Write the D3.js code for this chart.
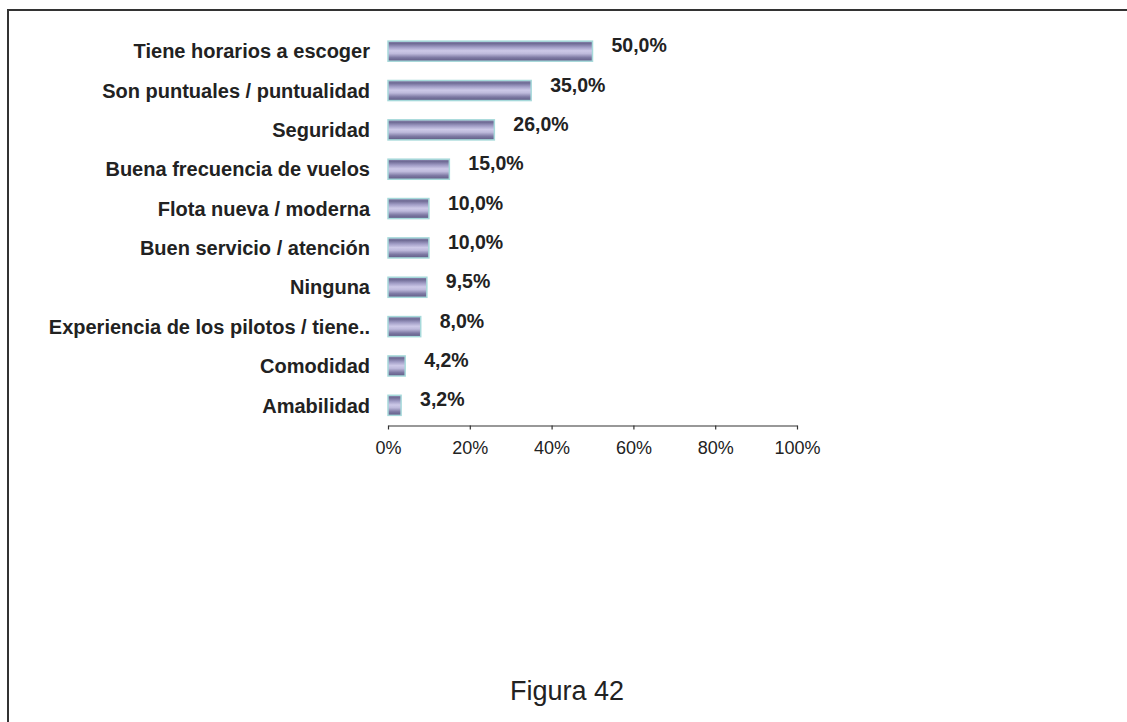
<!DOCTYPE html>
<html>
<head>
<meta charset="utf-8">
<script src="https://cdn.jsdelivr.net/npm/d3@7/dist/d3.min.js"></script>
<style>
  html, body { margin: 0; padding: 0; background: #fff; }
  svg { display: block; }
</style>
</head>
<body>
<svg id="chart" width="1127" height="722"></svg>
<script>
// Reasons given, in display order (top to bottom)
const categories = [
  "Tiene horarios a escoger",
  "Son puntuales / puntualidad",
  "Seguridad",
  "Buena frecuencia de vuelos",
  "Flota nueva / moderna",
  "Buen servicio / atención",
  "Ninguna",
  "Experiencia de los pilotos / tiene..",
  "Comodidad",
  "Amabilidad"
];
// Share of respondents, in percent
const values = [50.0, 35.0, 26.0, 15.0, 10.0, 10.0, 9.5, 8.0, 4.2, 3.2];
// Axis ticks
const tickValues = [0, 20, 40, 60, 80, 100];
const caption = "Figura 42";

const svg = d3.select("#chart");
const font = "'Liberation Sans', Arial, Helvetica, sans-serif";

// Frame around the figure
svg.append("path")
  .attr("d", "M8,722 L8,10 L1127,10")
  .attr("fill", "none")
  .attr("stroke", "#333")
  .attr("stroke-width", 2);

// Bar gradient: dark edges, light lavender middle
const defs = svg.append("defs");
const grad = defs.append("linearGradient")
  .attr("id", "barGrad")
  .attr("x1", 0).attr("y1", 0).attr("x2", 0).attr("y2", 1);
[
  [0, "#8f8bb2"], [0.12, "#6f6b95"], [0.3, "#a19dc6"], [0.48, "#cdc9e8"],
  [0.62, "#bebadc"], [0.82, "#7d79a3"], [1, "#5f5b85"]
].forEach(([o, c]) => grad.append("stop").attr("offset", o).attr("stop-color", c));

const x = d3.scaleLinear().domain([0, 100]).range([388, 797]);
const y = d3.scaleBand().domain(categories).range([31.5, 425]).paddingInner(0.49).paddingOuter(0.245);

// Bars
svg.append("g").selectAll("rect")
  .data(categories)
  .join("rect")
  .attr("x", x(0))
  .attr("y", d => y(d))
  .attr("width", (d, i) => x(values[i]) - x(0))
  .attr("height", y.bandwidth())
  .attr("fill", "url(#barGrad)")
  .attr("stroke", "#a6d9da")
  .attr("stroke-width", 1.5);

// Category labels
svg.append("g").selectAll("text")
  .data(categories)
  .join("text")
  .attr("x", 370)
  .attr("y", d => y(d) + y.bandwidth() / 2)
  .attr("dy", "0.36em")
  .attr("text-anchor", "end")
  .attr("font-family", font)
  .attr("font-weight", "bold")
  .attr("font-size", 20)
  .attr("fill", "#222")
  .text(d => d);

// Value labels
const fmt = v => v.toFixed(1).replace(".", ",") + "%";
svg.append("g").selectAll("text")
  .data(categories)
  .join("text")
  .attr("x", (d, i) => x(values[i]) + 19)
  .attr("y", d => y(d) + y.bandwidth() / 2 - 6)
  .attr("dy", "0.36em")
  .attr("font-family", font)
  .attr("font-weight", "bold")
  .attr("font-size", 19.5)
  .attr("fill", "#222")
  .text((d, i) => fmt(values[i]));

// Horizontal axis
const axis = d3.axisBottom(x)
  .tickValues(tickValues)
  .tickFormat(d => d + "%")
  .tickSize(4)
  .tickSizeOuter(0)
  .tickPadding(12);
const gAxis = svg.append("g")
  .attr("transform", "translate(0,425.5)")
  .call(axis);
gAxis.select(".domain").attr("stroke", "#333").attr("stroke-width", 1.2);
gAxis.selectAll(".tick line").attr("stroke", "#333").attr("stroke-width", 1.2);
gAxis.selectAll(".tick text")
  .attr("font-family", font)
  .attr("font-size", 18)
  .attr("fill", "#222");

// Caption
svg.append("text")
  .attr("x", 567)
  .attr("y", 700)
  .attr("text-anchor", "middle")
  .attr("font-family", font)
  .attr("font-size", 27)
  .attr("fill", "#222")
  .text(caption);
</script>
</body>
</html>
